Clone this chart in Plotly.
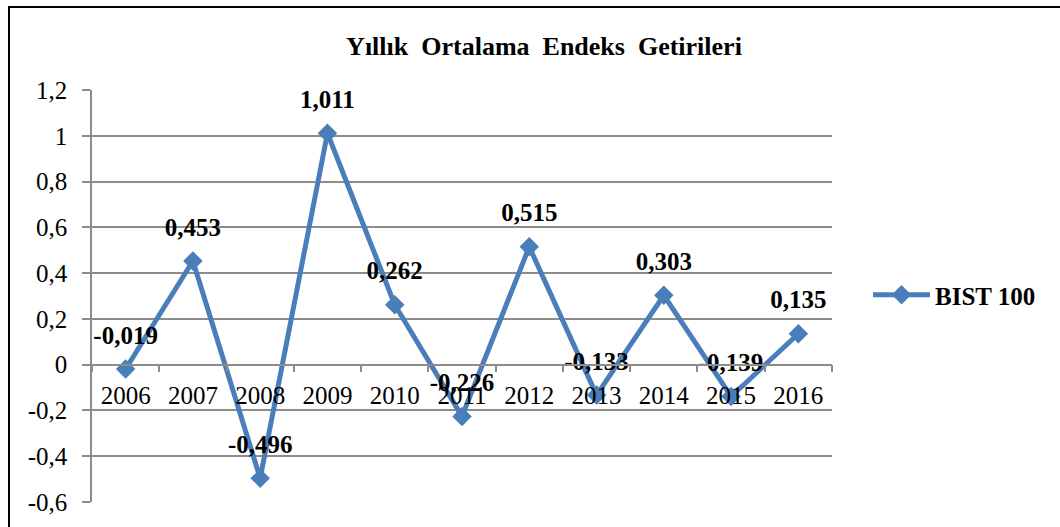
import plotly.graph_objects as go

years = ["2006", "2007", "2008", "2009", "2010", "2011", "2012", "2013", "2014", "2015", "2016"]
bist100 = [-0.019, 0.453, -0.496, 1.011, 0.262, -0.226, 0.515, -0.133, 0.303, -0.139, 0.135]
series_name = "BIST 100"
title_text = "Yıllık  Ortalama  Endeks  Getirileri"
y_tick_vals = [1.2, 1.0, 0.8, 0.6, 0.4, 0.2, 0.0, -0.2, -0.4, -0.6]
y_tick_text = ["1,2", "1", "0,8", "0,6", "0,4", "0,2", "0", "-0,2", "-0,4", "-0,6"]

W, H = 1060, 527
L, R, T, B = 92, 832, 90, 502  # plot area in pixels
FONT = "Liberation Serif"
BLUE = "#4A7EBB"
GRID = "#8C8C8C"

ymin, ymax = -0.6, 1.2

labels = [f"{v:.3f}".replace(".", ",") for v in bist100]

fig = go.Figure()
fig.add_trace(go.Scatter(
    x=years, y=bist100, mode="lines+markers", name=series_name,
    line=dict(color=BLUE, width=5),
    marker=dict(symbol="diamond", size=15, color=BLUE),
    hoverinfo="skip",
))
# data labels (invisible larger markers push the text further above the points)
fig.add_trace(go.Scatter(
    x=years, y=bist100, mode="markers+text", text=labels,
    textposition="top center", showlegend=False, hoverinfo="skip",
    marker=dict(size=29, opacity=0, color=BLUE),
    textfont=dict(family=FONT, size=25, color="black", weight="bold"),
    cliponaxis=False,
))

def px_x(p):
    return (p - L) / (R - L)

def px_y(p):
    return (B - p) / (B - T)

# outer chart border (left & top visible, right/bottom beyond the frame)
fig.add_shape(type="rect", xref="paper", yref="paper",
              x0=px_x(9), x1=px_x(1070), y0=px_y(540), y1=px_y(7),
              line=dict(color="black", width=2), layer="above")

fig.update_layout(
    width=W, height=H,
    margin=dict(l=L, r=W - R, t=T, b=H - B, pad=0),
    paper_bgcolor="white", plot_bgcolor="white",
    font=dict(family=FONT, size=25, color="black"),
    title=dict(text=title_text, xref="container", yref="container",
               x=544 / W, y=1 - 46 / H, xanchor="center", yanchor="middle",
               font=dict(family=FONT, size=26, color="black", weight="bold")),
    showlegend=True,
    legend=dict(x=px_x(868), y=px_y(295), xanchor="left", yanchor="middle",
                font=dict(family=FONT, size=25, color="black", weight="bold"),
                bgcolor="rgba(0,0,0,0)", itemwidth=57),
    xaxis=dict(
        type="category", range=[-0.5, len(years) - 0.5],
        anchor="free", position=(0 - ymin) / (ymax - ymin),
        showline=True, linecolor=GRID, linewidth=1.5,
        showgrid=False, zeroline=False,
        ticks="outside", tickson="boundaries", ticklen=7, tickcolor=GRID, tickwidth=1.5,
        tickfont=dict(family=FONT, size=25, color="black"),
        ticklabelstandoff=9,
    ),
    yaxis=dict(
        range=[ymin, ymax], tickvals=y_tick_vals, ticktext=y_tick_text,
        showgrid=True, gridcolor=GRID, gridwidth=1.5,
        zeroline=False,
        showline=True, linecolor=GRID, linewidth=1.5,
        ticks="outside", ticklen=8, tickcolor=GRID, tickwidth=1.5,
        tickfont=dict(family=FONT, size=25, color="black"),
        ticklabelstandoff=10,
    ),
)

fig.write_html("out.html", config={"displayModeBar": False},
               post_script="document.body.style.margin='0px';")
